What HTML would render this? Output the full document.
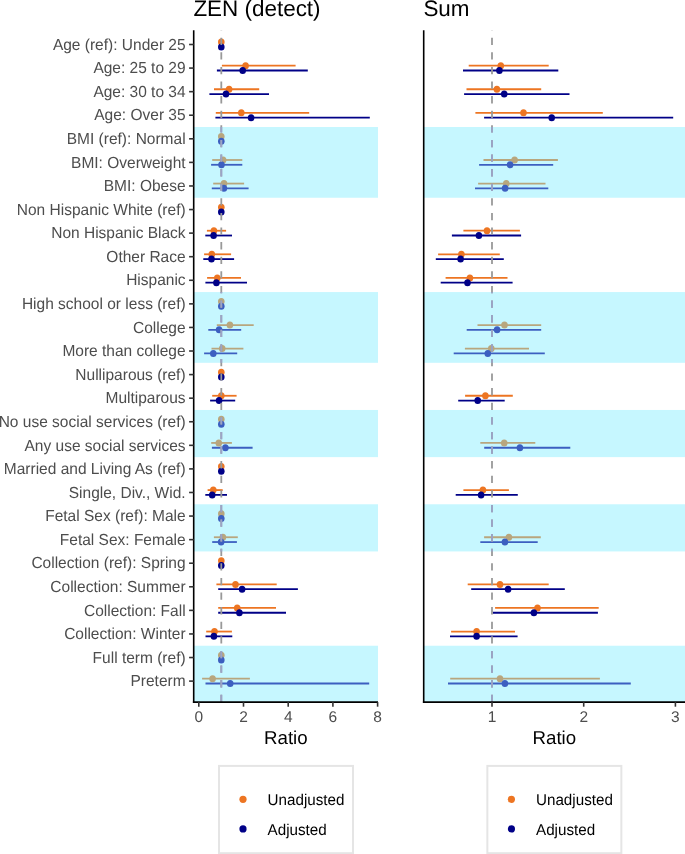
<!DOCTYPE html>
<html><head><meta charset="utf-8"><style>
html,body{margin:0;padding:0;background:#fff;}
body{width:685px;height:854px;overflow:hidden;}
svg{display:block;font-family:"Liberation Sans",sans-serif;will-change:transform;}
svg text{text-rendering:geometricPrecision;}
</style></head><body>
<svg width="685" height="854" viewBox="0 0 685 854">
<rect x="0" y="0" width="685" height="854" fill="#FFFFFF"/>
<defs>
<clipPath id="cb"><rect x="0" y="127.02" width="685" height="70.73"/><rect x="0" y="292.07" width="685" height="70.73"/><rect x="0" y="409.96" width="685" height="47.16"/><rect x="0" y="504.27" width="685" height="47.16"/><rect x="0" y="645.74" width="685" height="56.36"/></clipPath>
</defs>
<rect x="193.70" y="127.02" width="184.30" height="70.73" fill="#C6F7FF"/>
<rect x="193.70" y="292.07" width="184.30" height="70.73" fill="#C6F7FF"/>
<rect x="193.70" y="409.96" width="184.30" height="47.16" fill="#C6F7FF"/>
<rect x="193.70" y="504.27" width="184.30" height="47.16" fill="#C6F7FF"/>
<rect x="193.70" y="645.74" width="184.30" height="56.36" fill="#C6F7FF"/>
<line x1="221.9" y1="65.68" x2="295.6" y2="65.68" stroke="#ED7522" stroke-width="1.8"/>
<line x1="216.9" y1="70.48" x2="307.8" y2="70.48" stroke="#000087" stroke-width="1.8"/>
<line x1="214.0" y1="89.26" x2="259.2" y2="89.26" stroke="#ED7522" stroke-width="1.8"/>
<line x1="209.4" y1="94.06" x2="269.0" y2="94.06" stroke="#000087" stroke-width="1.8"/>
<line x1="215.8" y1="112.83" x2="309.2" y2="112.83" stroke="#ED7522" stroke-width="1.8"/>
<line x1="215.4" y1="117.63" x2="369.8" y2="117.63" stroke="#000087" stroke-width="1.8"/>
<line x1="212.2" y1="159.99" x2="242.3" y2="159.99" stroke="#B8A67E" stroke-width="1.8"/>
<line x1="211.1" y1="164.79" x2="242.3" y2="164.79" stroke="#3C5FC0" stroke-width="1.8"/>
<line x1="213.2" y1="183.57" x2="244.1" y2="183.57" stroke="#B8A67E" stroke-width="1.8"/>
<line x1="211.8" y1="188.37" x2="248.6" y2="188.37" stroke="#3C5FC0" stroke-width="1.8"/>
<line x1="206.9" y1="230.72" x2="226.1" y2="230.72" stroke="#ED7522" stroke-width="1.8"/>
<line x1="205.3" y1="235.52" x2="232.0" y2="235.52" stroke="#000087" stroke-width="1.8"/>
<line x1="204.1" y1="254.30" x2="231.1" y2="254.30" stroke="#ED7522" stroke-width="1.8"/>
<line x1="203.3" y1="259.10" x2="234.1" y2="259.10" stroke="#000087" stroke-width="1.8"/>
<line x1="207.1" y1="277.88" x2="241.0" y2="277.88" stroke="#ED7522" stroke-width="1.8"/>
<line x1="205.4" y1="282.68" x2="247.0" y2="282.68" stroke="#000087" stroke-width="1.8"/>
<line x1="216.8" y1="325.04" x2="253.7" y2="325.04" stroke="#B8A67E" stroke-width="1.8"/>
<line x1="208.3" y1="329.84" x2="241.2" y2="329.84" stroke="#3C5FC0" stroke-width="1.8"/>
<line x1="211.5" y1="348.61" x2="243.4" y2="348.61" stroke="#B8A67E" stroke-width="1.8"/>
<line x1="204.1" y1="353.41" x2="237.2" y2="353.41" stroke="#3C5FC0" stroke-width="1.8"/>
<line x1="212.2" y1="395.77" x2="236.6" y2="395.77" stroke="#ED7522" stroke-width="1.8"/>
<line x1="210.1" y1="400.57" x2="235.2" y2="400.57" stroke="#000087" stroke-width="1.8"/>
<line x1="211.2" y1="442.93" x2="231.9" y2="442.93" stroke="#B8A67E" stroke-width="1.8"/>
<line x1="211.9" y1="447.73" x2="252.6" y2="447.73" stroke="#3C5FC0" stroke-width="1.8"/>
<line x1="207.6" y1="490.08" x2="222.7" y2="490.08" stroke="#ED7522" stroke-width="1.8"/>
<line x1="205.3" y1="494.88" x2="227.0" y2="494.88" stroke="#000087" stroke-width="1.8"/>
<line x1="213.9" y1="537.24" x2="237.8" y2="537.24" stroke="#B8A67E" stroke-width="1.8"/>
<line x1="212.2" y1="542.04" x2="236.9" y2="542.04" stroke="#3C5FC0" stroke-width="1.8"/>
<line x1="216.4" y1="584.39" x2="276.7" y2="584.39" stroke="#ED7522" stroke-width="1.8"/>
<line x1="218.2" y1="589.19" x2="297.9" y2="589.19" stroke="#000087" stroke-width="1.8"/>
<line x1="218.2" y1="607.97" x2="276.0" y2="607.97" stroke="#ED7522" stroke-width="1.8"/>
<line x1="218.2" y1="612.77" x2="286.0" y2="612.77" stroke="#000087" stroke-width="1.8"/>
<line x1="206.2" y1="631.55" x2="231.9" y2="631.55" stroke="#ED7522" stroke-width="1.8"/>
<line x1="205.5" y1="636.35" x2="232.3" y2="636.35" stroke="#000087" stroke-width="1.8"/>
<line x1="202.1" y1="678.71" x2="249.9" y2="678.71" stroke="#B8A67E" stroke-width="1.8"/>
<line x1="205.5" y1="683.51" x2="369.2" y2="683.51" stroke="#3C5FC0" stroke-width="1.8"/>
<ellipse cx="221.3" cy="42.10" rx="3.3" ry="3.5" fill="#ED7522"/>
<ellipse cx="221.3" cy="46.90" rx="3.3" ry="3.5" fill="#000087"/>
<ellipse cx="245.6" cy="65.68" rx="3.3" ry="3.5" fill="#ED7522"/>
<ellipse cx="242.7" cy="70.48" rx="3.3" ry="3.5" fill="#000087"/>
<ellipse cx="229.1" cy="89.26" rx="3.3" ry="3.5" fill="#ED7522"/>
<ellipse cx="226.0" cy="94.06" rx="3.3" ry="3.5" fill="#000087"/>
<ellipse cx="241.3" cy="112.83" rx="3.3" ry="3.5" fill="#ED7522"/>
<ellipse cx="251.1" cy="117.63" rx="3.3" ry="3.5" fill="#000087"/>
<ellipse cx="221.3" cy="136.41" rx="3.3" ry="3.5" fill="#B8A67E"/>
<ellipse cx="221.3" cy="141.21" rx="3.3" ry="3.5" fill="#3C5FC0"/>
<ellipse cx="223.1" cy="159.99" rx="3.3" ry="3.5" fill="#B8A67E"/>
<ellipse cx="221.5" cy="164.79" rx="3.3" ry="3.5" fill="#3C5FC0"/>
<ellipse cx="224.0" cy="183.57" rx="3.3" ry="3.5" fill="#B8A67E"/>
<ellipse cx="223.9" cy="188.37" rx="3.3" ry="3.5" fill="#3C5FC0"/>
<ellipse cx="221.3" cy="207.15" rx="3.3" ry="3.5" fill="#ED7522"/>
<ellipse cx="221.3" cy="211.95" rx="3.3" ry="3.5" fill="#000087"/>
<ellipse cx="213.9" cy="230.72" rx="3.3" ry="3.5" fill="#ED7522"/>
<ellipse cx="213.6" cy="235.52" rx="3.3" ry="3.5" fill="#000087"/>
<ellipse cx="211.8" cy="254.30" rx="3.3" ry="3.5" fill="#ED7522"/>
<ellipse cx="211.5" cy="259.10" rx="3.3" ry="3.5" fill="#000087"/>
<ellipse cx="217.3" cy="277.88" rx="3.3" ry="3.5" fill="#ED7522"/>
<ellipse cx="216.4" cy="282.68" rx="3.3" ry="3.5" fill="#000087"/>
<ellipse cx="221.3" cy="301.46" rx="3.3" ry="3.5" fill="#B8A67E"/>
<ellipse cx="221.3" cy="306.26" rx="3.3" ry="3.5" fill="#3C5FC0"/>
<ellipse cx="229.9" cy="325.04" rx="3.3" ry="3.5" fill="#B8A67E"/>
<ellipse cx="219.1" cy="329.84" rx="3.3" ry="3.5" fill="#3C5FC0"/>
<ellipse cx="222.2" cy="348.61" rx="3.3" ry="3.5" fill="#B8A67E"/>
<ellipse cx="213.3" cy="353.41" rx="3.3" ry="3.5" fill="#3C5FC0"/>
<ellipse cx="221.3" cy="372.19" rx="3.3" ry="3.5" fill="#ED7522"/>
<ellipse cx="221.3" cy="376.99" rx="3.3" ry="3.5" fill="#000087"/>
<ellipse cx="221.3" cy="395.77" rx="3.3" ry="3.5" fill="#ED7522"/>
<ellipse cx="219.1" cy="400.57" rx="3.3" ry="3.5" fill="#000087"/>
<ellipse cx="221.3" cy="419.35" rx="3.3" ry="3.5" fill="#B8A67E"/>
<ellipse cx="221.3" cy="424.15" rx="3.3" ry="3.5" fill="#3C5FC0"/>
<ellipse cx="218.8" cy="442.93" rx="3.3" ry="3.5" fill="#B8A67E"/>
<ellipse cx="225.4" cy="447.73" rx="3.3" ry="3.5" fill="#3C5FC0"/>
<ellipse cx="221.3" cy="466.50" rx="3.3" ry="3.5" fill="#ED7522"/>
<ellipse cx="221.3" cy="471.30" rx="3.3" ry="3.5" fill="#000087"/>
<ellipse cx="213.3" cy="490.08" rx="3.3" ry="3.5" fill="#ED7522"/>
<ellipse cx="212.2" cy="494.88" rx="3.3" ry="3.5" fill="#000087"/>
<ellipse cx="221.3" cy="513.66" rx="3.3" ry="3.5" fill="#B8A67E"/>
<ellipse cx="221.3" cy="518.46" rx="3.3" ry="3.5" fill="#3C5FC0"/>
<ellipse cx="222.9" cy="537.24" rx="3.3" ry="3.5" fill="#B8A67E"/>
<ellipse cx="221.1" cy="542.04" rx="3.3" ry="3.5" fill="#3C5FC0"/>
<ellipse cx="221.3" cy="560.82" rx="3.3" ry="3.5" fill="#ED7522"/>
<ellipse cx="221.3" cy="565.62" rx="3.3" ry="3.5" fill="#000087"/>
<ellipse cx="235.5" cy="584.39" rx="3.3" ry="3.5" fill="#ED7522"/>
<ellipse cx="242.1" cy="589.19" rx="3.3" ry="3.5" fill="#000087"/>
<ellipse cx="237.2" cy="607.97" rx="3.3" ry="3.5" fill="#ED7522"/>
<ellipse cx="239.4" cy="612.77" rx="3.3" ry="3.5" fill="#000087"/>
<ellipse cx="214.5" cy="631.55" rx="3.3" ry="3.5" fill="#ED7522"/>
<ellipse cx="213.9" cy="636.35" rx="3.3" ry="3.5" fill="#000087"/>
<ellipse cx="221.3" cy="655.13" rx="3.3" ry="3.5" fill="#B8A67E"/>
<ellipse cx="221.3" cy="659.93" rx="3.3" ry="3.5" fill="#3C5FC0"/>
<ellipse cx="212.6" cy="678.71" rx="3.3" ry="3.5" fill="#B8A67E"/>
<ellipse cx="230.2" cy="683.51" rx="3.3" ry="3.5" fill="#3C5FC0"/>
<line x1="221.3" y1="702.0" x2="221.3" y2="30.2" stroke="#999999" stroke-width="1.8" stroke-dasharray="7.3 7.3"/>
<line x1="221.3" y1="702.0" x2="221.3" y2="30.2" stroke="#9BA4C7" stroke-width="1.8" stroke-dasharray="7.3 7.3" clip-path="url(#cb)"/>
<line x1="193.7" y1="30.2" x2="193.7" y2="702.9" stroke="#000" stroke-width="1.6"/>
<line x1="192.89999999999998" y1="702.1" x2="378.0" y2="702.1" stroke="#000" stroke-width="1.6"/>
<rect x="423.70" y="127.02" width="261.80" height="70.73" fill="#C6F7FF"/>
<rect x="423.70" y="292.07" width="261.80" height="70.73" fill="#C6F7FF"/>
<rect x="423.70" y="409.96" width="261.80" height="47.16" fill="#C6F7FF"/>
<rect x="423.70" y="504.27" width="261.80" height="47.16" fill="#C6F7FF"/>
<rect x="423.70" y="645.74" width="261.80" height="56.36" fill="#C6F7FF"/>
<line x1="468.7" y1="65.68" x2="548.7" y2="65.68" stroke="#ED7522" stroke-width="1.8"/>
<line x1="463.0" y1="70.48" x2="558.3" y2="70.48" stroke="#000087" stroke-width="1.8"/>
<line x1="466.5" y1="89.26" x2="541.2" y2="89.26" stroke="#ED7522" stroke-width="1.8"/>
<line x1="464.1" y1="94.06" x2="569.5" y2="94.06" stroke="#000087" stroke-width="1.8"/>
<line x1="475.4" y1="112.83" x2="602.8" y2="112.83" stroke="#ED7522" stroke-width="1.8"/>
<line x1="484.1" y1="117.63" x2="673.2" y2="117.63" stroke="#000087" stroke-width="1.8"/>
<line x1="483.5" y1="159.99" x2="557.9" y2="159.99" stroke="#B8A67E" stroke-width="1.8"/>
<line x1="479.1" y1="164.79" x2="553.2" y2="164.79" stroke="#3C5FC0" stroke-width="1.8"/>
<line x1="478.1" y1="183.57" x2="545.5" y2="183.57" stroke="#B8A67E" stroke-width="1.8"/>
<line x1="475.0" y1="188.37" x2="548.3" y2="188.37" stroke="#3C5FC0" stroke-width="1.8"/>
<line x1="463.4" y1="230.72" x2="519.9" y2="230.72" stroke="#ED7522" stroke-width="1.8"/>
<line x1="451.9" y1="235.52" x2="521.1" y2="235.52" stroke="#000087" stroke-width="1.8"/>
<line x1="438.1" y1="254.30" x2="499.8" y2="254.30" stroke="#ED7522" stroke-width="1.8"/>
<line x1="435.8" y1="259.10" x2="503.8" y2="259.10" stroke="#000087" stroke-width="1.8"/>
<line x1="445.6" y1="277.88" x2="507.5" y2="277.88" stroke="#ED7522" stroke-width="1.8"/>
<line x1="440.7" y1="282.68" x2="512.6" y2="282.68" stroke="#000087" stroke-width="1.8"/>
<line x1="477.5" y1="325.04" x2="541.2" y2="325.04" stroke="#B8A67E" stroke-width="1.8"/>
<line x1="466.7" y1="329.84" x2="541.2" y2="329.84" stroke="#3C5FC0" stroke-width="1.8"/>
<line x1="464.9" y1="348.61" x2="529.0" y2="348.61" stroke="#B8A67E" stroke-width="1.8"/>
<line x1="453.7" y1="353.41" x2="544.8" y2="353.41" stroke="#3C5FC0" stroke-width="1.8"/>
<line x1="465.1" y1="395.77" x2="512.8" y2="395.77" stroke="#ED7522" stroke-width="1.8"/>
<line x1="458.2" y1="400.57" x2="504.7" y2="400.57" stroke="#000087" stroke-width="1.8"/>
<line x1="480.3" y1="442.93" x2="535.3" y2="442.93" stroke="#B8A67E" stroke-width="1.8"/>
<line x1="484.2" y1="447.73" x2="570.3" y2="447.73" stroke="#3C5FC0" stroke-width="1.8"/>
<line x1="463.4" y1="490.08" x2="508.9" y2="490.08" stroke="#ED7522" stroke-width="1.8"/>
<line x1="455.7" y1="494.88" x2="517.8" y2="494.88" stroke="#000087" stroke-width="1.8"/>
<line x1="484.1" y1="537.24" x2="540.8" y2="537.24" stroke="#B8A67E" stroke-width="1.8"/>
<line x1="480.3" y1="542.04" x2="537.7" y2="542.04" stroke="#3C5FC0" stroke-width="1.8"/>
<line x1="467.7" y1="584.39" x2="548.7" y2="584.39" stroke="#ED7522" stroke-width="1.8"/>
<line x1="471.2" y1="589.19" x2="564.8" y2="589.19" stroke="#000087" stroke-width="1.8"/>
<line x1="495.1" y1="607.97" x2="598.7" y2="607.97" stroke="#ED7522" stroke-width="1.8"/>
<line x1="492.9" y1="612.77" x2="597.9" y2="612.77" stroke="#000087" stroke-width="1.8"/>
<line x1="451.1" y1="631.55" x2="515.0" y2="631.55" stroke="#ED7522" stroke-width="1.8"/>
<line x1="450.0" y1="636.35" x2="517.6" y2="636.35" stroke="#000087" stroke-width="1.8"/>
<line x1="450.2" y1="678.71" x2="599.9" y2="678.71" stroke="#B8A67E" stroke-width="1.8"/>
<line x1="448.0" y1="683.51" x2="630.8" y2="683.51" stroke="#3C5FC0" stroke-width="1.8"/>
<ellipse cx="500.8" cy="65.68" rx="3.3" ry="3.5" fill="#ED7522"/>
<ellipse cx="499.4" cy="70.48" rx="3.3" ry="3.5" fill="#000087"/>
<ellipse cx="496.9" cy="89.26" rx="3.3" ry="3.5" fill="#ED7522"/>
<ellipse cx="504.2" cy="94.06" rx="3.3" ry="3.5" fill="#000087"/>
<ellipse cx="523.5" cy="112.83" rx="3.3" ry="3.5" fill="#ED7522"/>
<ellipse cx="551.7" cy="117.63" rx="3.3" ry="3.5" fill="#000087"/>
<ellipse cx="514.6" cy="159.99" rx="3.3" ry="3.5" fill="#B8A67E"/>
<ellipse cx="510.1" cy="164.79" rx="3.3" ry="3.5" fill="#3C5FC0"/>
<ellipse cx="506.3" cy="183.57" rx="3.3" ry="3.5" fill="#B8A67E"/>
<ellipse cx="505.1" cy="188.37" rx="3.3" ry="3.5" fill="#3C5FC0"/>
<ellipse cx="487.0" cy="230.72" rx="3.3" ry="3.5" fill="#ED7522"/>
<ellipse cx="478.9" cy="235.52" rx="3.3" ry="3.5" fill="#000087"/>
<ellipse cx="461.4" cy="254.30" rx="3.3" ry="3.5" fill="#ED7522"/>
<ellipse cx="460.6" cy="259.10" rx="3.3" ry="3.5" fill="#000087"/>
<ellipse cx="469.9" cy="277.88" rx="3.3" ry="3.5" fill="#ED7522"/>
<ellipse cx="467.5" cy="282.68" rx="3.3" ry="3.5" fill="#000087"/>
<ellipse cx="504.5" cy="325.04" rx="3.3" ry="3.5" fill="#B8A67E"/>
<ellipse cx="497.1" cy="329.84" rx="3.3" ry="3.5" fill="#3C5FC0"/>
<ellipse cx="491.3" cy="348.61" rx="3.3" ry="3.5" fill="#B8A67E"/>
<ellipse cx="487.8" cy="353.41" rx="3.3" ry="3.5" fill="#3C5FC0"/>
<ellipse cx="485.4" cy="395.77" rx="3.3" ry="3.5" fill="#ED7522"/>
<ellipse cx="477.7" cy="400.57" rx="3.3" ry="3.5" fill="#000087"/>
<ellipse cx="504.2" cy="442.93" rx="3.3" ry="3.5" fill="#B8A67E"/>
<ellipse cx="519.9" cy="447.73" rx="3.3" ry="3.5" fill="#3C5FC0"/>
<ellipse cx="482.9" cy="490.08" rx="3.3" ry="3.5" fill="#ED7522"/>
<ellipse cx="481.1" cy="494.88" rx="3.3" ry="3.5" fill="#000087"/>
<ellipse cx="508.9" cy="537.24" rx="3.3" ry="3.5" fill="#B8A67E"/>
<ellipse cx="504.9" cy="542.04" rx="3.3" ry="3.5" fill="#3C5FC0"/>
<ellipse cx="500.0" cy="584.39" rx="3.3" ry="3.5" fill="#ED7522"/>
<ellipse cx="508.1" cy="589.19" rx="3.3" ry="3.5" fill="#000087"/>
<ellipse cx="537.5" cy="607.97" rx="3.3" ry="3.5" fill="#ED7522"/>
<ellipse cx="533.9" cy="612.77" rx="3.3" ry="3.5" fill="#000087"/>
<ellipse cx="476.6" cy="631.55" rx="3.3" ry="3.5" fill="#ED7522"/>
<ellipse cx="476.6" cy="636.35" rx="3.3" ry="3.5" fill="#000087"/>
<ellipse cx="500.0" cy="678.71" rx="3.3" ry="3.5" fill="#B8A67E"/>
<ellipse cx="504.9" cy="683.51" rx="3.3" ry="3.5" fill="#3C5FC0"/>
<line x1="492.0" y1="702.0" x2="492.0" y2="30.2" stroke="#999999" stroke-width="1.8" stroke-dasharray="7.3 7.3"/>
<line x1="492.0" y1="702.0" x2="492.0" y2="30.2" stroke="#9BA4C7" stroke-width="1.8" stroke-dasharray="7.3 7.3" clip-path="url(#cb)"/>
<line x1="423.7" y1="30.2" x2="423.7" y2="702.9" stroke="#000" stroke-width="1.6"/>
<line x1="422.9" y1="702.1" x2="685.5" y2="702.1" stroke="#000" stroke-width="1.6"/>
<line x1="189.1" y1="44.50" x2="193.7" y2="44.50" stroke="#333333" stroke-width="1.6"/>
<text transform="translate(185.60,49.70) scale(1,1.03)" font-size="15.5" fill="#4D4D4D" text-anchor="end">Age (ref): Under 25</text>
<line x1="189.1" y1="68.08" x2="193.7" y2="68.08" stroke="#333333" stroke-width="1.6"/>
<text transform="translate(185.60,73.28) scale(1,1.03)" font-size="15.5" fill="#4D4D4D" text-anchor="end">Age: 25 to 29</text>
<line x1="189.1" y1="91.66" x2="193.7" y2="91.66" stroke="#333333" stroke-width="1.6"/>
<text transform="translate(185.60,96.86) scale(1,1.03)" font-size="15.5" fill="#4D4D4D" text-anchor="end">Age: 30 to 34</text>
<line x1="189.1" y1="115.23" x2="193.7" y2="115.23" stroke="#333333" stroke-width="1.6"/>
<text transform="translate(185.60,120.43) scale(1,1.03)" font-size="15.5" fill="#4D4D4D" text-anchor="end">Age: Over 35</text>
<line x1="189.1" y1="138.81" x2="193.7" y2="138.81" stroke="#333333" stroke-width="1.6"/>
<text transform="translate(185.60,144.01) scale(1,1.03)" font-size="15.5" fill="#4D4D4D" text-anchor="end">BMI (ref): Normal</text>
<line x1="189.1" y1="162.39" x2="193.7" y2="162.39" stroke="#333333" stroke-width="1.6"/>
<text transform="translate(185.60,167.59) scale(1,1.03)" font-size="15.5" fill="#4D4D4D" text-anchor="end">BMI: Overweight</text>
<line x1="189.1" y1="185.97" x2="193.7" y2="185.97" stroke="#333333" stroke-width="1.6"/>
<text transform="translate(185.60,191.17) scale(1,1.03)" font-size="15.5" fill="#4D4D4D" text-anchor="end">BMI: Obese</text>
<line x1="189.1" y1="209.55" x2="193.7" y2="209.55" stroke="#333333" stroke-width="1.6"/>
<text transform="translate(185.60,214.75) scale(1,1.03)" font-size="15.5" fill="#4D4D4D" text-anchor="end">Non Hispanic White (ref)</text>
<line x1="189.1" y1="233.12" x2="193.7" y2="233.12" stroke="#333333" stroke-width="1.6"/>
<text transform="translate(185.60,238.32) scale(1,1.03)" font-size="15.5" fill="#4D4D4D" text-anchor="end">Non Hispanic Black</text>
<line x1="189.1" y1="256.70" x2="193.7" y2="256.70" stroke="#333333" stroke-width="1.6"/>
<text transform="translate(185.60,261.90) scale(1,1.03)" font-size="15.5" fill="#4D4D4D" text-anchor="end">Other Race</text>
<line x1="189.1" y1="280.28" x2="193.7" y2="280.28" stroke="#333333" stroke-width="1.6"/>
<text transform="translate(185.60,285.48) scale(1,1.03)" font-size="15.5" fill="#4D4D4D" text-anchor="end">Hispanic</text>
<line x1="189.1" y1="303.86" x2="193.7" y2="303.86" stroke="#333333" stroke-width="1.6"/>
<text transform="translate(185.60,309.06) scale(1,1.03)" font-size="15.5" fill="#4D4D4D" text-anchor="end">High school or less (ref)</text>
<line x1="189.1" y1="327.44" x2="193.7" y2="327.44" stroke="#333333" stroke-width="1.6"/>
<text transform="translate(185.60,332.64) scale(1,1.03)" font-size="15.5" fill="#4D4D4D" text-anchor="end">College</text>
<line x1="189.1" y1="351.01" x2="193.7" y2="351.01" stroke="#333333" stroke-width="1.6"/>
<text transform="translate(185.60,356.21) scale(1,1.03)" font-size="15.5" fill="#4D4D4D" text-anchor="end">More than college</text>
<line x1="189.1" y1="374.59" x2="193.7" y2="374.59" stroke="#333333" stroke-width="1.6"/>
<text transform="translate(185.60,379.79) scale(1,1.03)" font-size="15.5" fill="#4D4D4D" text-anchor="end">Nulliparous (ref)</text>
<line x1="189.1" y1="398.17" x2="193.7" y2="398.17" stroke="#333333" stroke-width="1.6"/>
<text transform="translate(185.60,403.37) scale(1,1.03)" font-size="15.5" fill="#4D4D4D" text-anchor="end">Multiparous</text>
<line x1="189.1" y1="421.75" x2="193.7" y2="421.75" stroke="#333333" stroke-width="1.6"/>
<text transform="translate(185.60,426.95) scale(1,1.03)" font-size="15.5" fill="#4D4D4D" text-anchor="end">No use social services (ref)</text>
<line x1="189.1" y1="445.33" x2="193.7" y2="445.33" stroke="#333333" stroke-width="1.6"/>
<text transform="translate(185.60,450.53) scale(1,1.03)" font-size="15.5" fill="#4D4D4D" text-anchor="end">Any use social services</text>
<line x1="189.1" y1="468.90" x2="193.7" y2="468.90" stroke="#333333" stroke-width="1.6"/>
<text transform="translate(185.60,474.10) scale(1,1.03)" font-size="15.5" fill="#4D4D4D" text-anchor="end">Married and Living As (ref)</text>
<line x1="189.1" y1="492.48" x2="193.7" y2="492.48" stroke="#333333" stroke-width="1.6"/>
<text transform="translate(185.60,497.68) scale(1,1.03)" font-size="15.5" fill="#4D4D4D" text-anchor="end">Single, Div., Wid.</text>
<line x1="189.1" y1="516.06" x2="193.7" y2="516.06" stroke="#333333" stroke-width="1.6"/>
<text transform="translate(185.60,521.26) scale(1,1.03)" font-size="15.5" fill="#4D4D4D" text-anchor="end">Fetal Sex (ref): Male</text>
<line x1="189.1" y1="539.64" x2="193.7" y2="539.64" stroke="#333333" stroke-width="1.6"/>
<text transform="translate(185.60,544.84) scale(1,1.03)" font-size="15.5" fill="#4D4D4D" text-anchor="end">Fetal Sex: Female</text>
<line x1="189.1" y1="563.22" x2="193.7" y2="563.22" stroke="#333333" stroke-width="1.6"/>
<text transform="translate(185.60,568.42) scale(1,1.03)" font-size="15.5" fill="#4D4D4D" text-anchor="end">Collection (ref): Spring</text>
<line x1="189.1" y1="586.79" x2="193.7" y2="586.79" stroke="#333333" stroke-width="1.6"/>
<text transform="translate(185.60,591.99) scale(1,1.03)" font-size="15.5" fill="#4D4D4D" text-anchor="end">Collection: Summer</text>
<line x1="189.1" y1="610.37" x2="193.7" y2="610.37" stroke="#333333" stroke-width="1.6"/>
<text transform="translate(185.60,615.57) scale(1,1.03)" font-size="15.5" fill="#4D4D4D" text-anchor="end">Collection: Fall</text>
<line x1="189.1" y1="633.95" x2="193.7" y2="633.95" stroke="#333333" stroke-width="1.6"/>
<text transform="translate(185.60,639.15) scale(1,1.03)" font-size="15.5" fill="#4D4D4D" text-anchor="end">Collection: Winter</text>
<line x1="189.1" y1="657.53" x2="193.7" y2="657.53" stroke="#333333" stroke-width="1.6"/>
<text transform="translate(185.60,662.73) scale(1,1.03)" font-size="15.5" fill="#4D4D4D" text-anchor="end">Full term (ref)</text>
<line x1="189.1" y1="681.11" x2="193.7" y2="681.11" stroke="#333333" stroke-width="1.6"/>
<text transform="translate(185.60,686.31) scale(1,1.03)" font-size="15.5" fill="#4D4D4D" text-anchor="end">Preterm</text>
<line x1="198.80" y1="702.1" x2="198.80" y2="706.70" stroke="#333333" stroke-width="1.6"/>
<text transform="translate(198.80,721.70) scale(1,1.0)" font-size="15.5" fill="#4D4D4D" text-anchor="middle">0</text>
<line x1="243.50" y1="702.1" x2="243.50" y2="706.70" stroke="#333333" stroke-width="1.6"/>
<text transform="translate(243.50,721.70) scale(1,1.0)" font-size="15.5" fill="#4D4D4D" text-anchor="middle">2</text>
<line x1="288.20" y1="702.1" x2="288.20" y2="706.70" stroke="#333333" stroke-width="1.6"/>
<text transform="translate(288.20,721.70) scale(1,1.0)" font-size="15.5" fill="#4D4D4D" text-anchor="middle">4</text>
<line x1="332.90" y1="702.1" x2="332.90" y2="706.70" stroke="#333333" stroke-width="1.6"/>
<text transform="translate(332.90,721.70) scale(1,1.0)" font-size="15.5" fill="#4D4D4D" text-anchor="middle">6</text>
<line x1="377.60" y1="702.1" x2="377.60" y2="706.70" stroke="#333333" stroke-width="1.6"/>
<text transform="translate(377.60,721.70) scale(1,1.0)" font-size="15.5" fill="#4D4D4D" text-anchor="middle">8</text>
<line x1="492.00" y1="702.1" x2="492.00" y2="706.70" stroke="#333333" stroke-width="1.6"/>
<text transform="translate(492.00,721.70) scale(1,1.0)" font-size="15.5" fill="#4D4D4D" text-anchor="middle">1</text>
<line x1="583.70" y1="702.1" x2="583.70" y2="706.70" stroke="#333333" stroke-width="1.6"/>
<text transform="translate(583.70,721.70) scale(1,1.0)" font-size="15.5" fill="#4D4D4D" text-anchor="middle">2</text>
<line x1="675.40" y1="702.1" x2="675.40" y2="706.70" stroke="#333333" stroke-width="1.6"/>
<text transform="translate(675.40,721.70) scale(1,1.0)" font-size="15.5" fill="#4D4D4D" text-anchor="middle">3</text>
<text transform="translate(285.85,743.50) scale(1,1.0)" font-size="18.7" fill="#000" text-anchor="middle">Ratio</text>
<text transform="translate(554.35,743.50) scale(1,1.0)" font-size="18.7" fill="#000" text-anchor="middle">Ratio</text>
<text transform="translate(193.40,16.30) scale(1,1.0)" font-size="22.45" fill="#000">ZEN (detect)</text>
<text transform="translate(423.40,16.30) scale(1,1.0)" font-size="22.45" fill="#000">Sum</text>
<rect x="219.0" y="765.9" width="134.0" height="87.3" fill="#FFFFFF" stroke="#E5E5E5" stroke-width="2"/>
<circle cx="243.0" cy="799.3" r="3.6" fill="#ED7522"/>
<circle cx="243.0" cy="828.9" r="3.6" fill="#000087"/>
<text transform="translate(267.60,804.60) scale(1,1.03)" font-size="15.2" fill="#000">Unadjusted</text>
<text transform="translate(267.60,834.60) scale(1,1.03)" font-size="15.2" fill="#000">Adjusted</text>
<rect x="487.35" y="765.9" width="134.0" height="87.3" fill="#FFFFFF" stroke="#E5E5E5" stroke-width="2"/>
<circle cx="511.4" cy="799.3" r="3.6" fill="#ED7522"/>
<circle cx="511.4" cy="828.9" r="3.6" fill="#000087"/>
<text transform="translate(536.00,804.60) scale(1,1.03)" font-size="15.2" fill="#000">Unadjusted</text>
<text transform="translate(536.00,834.60) scale(1,1.03)" font-size="15.2" fill="#000">Adjusted</text>
</svg>
</body></html>
